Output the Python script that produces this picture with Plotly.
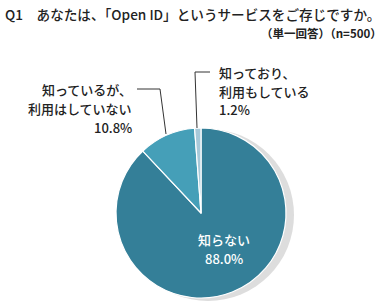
import plotly.graph_objects as go

W, H = 390, 301

labels = ["知らない", "知っているが、\n利用はしていない", "知っており、\n利用もしている"]
values = [88.0, 10.8, 1.2]
colors = ["#347f98", "#459fb8", "#a7c9d9"]

title = "Q1　あなたは、「Open ID」というサービスをご存じですか。"
subtitle = "（単一回答）（n=500）"

FONT = "Noto Sans CJK JP"
TXT = "#222222"

def px(x):
    return x / W

def py(y):
    return 1 - y / H

fig = go.Figure()

# shadow disc
fig.add_trace(go.Pie(
    values=[1], marker=dict(colors=["#dddddd"], line=dict(width=0)),
    textinfo="none", hoverinfo="skip", showlegend=False, sort=False,
    domain=dict(x=[px(122), px(294)], y=[py(301), py(129)]),
))

fig.add_trace(go.Pie(
    labels=labels, values=values, sort=False, direction="clockwise", rotation=0,
    marker=dict(colors=colors, line=dict(color="white", width=1.2)),
    textinfo="none", showlegend=False,
    domain=dict(x=[px(116), px(286)], y=[py(298), py(128)]),
))

ann = []
ann.append(dict(text=title, x=px(3), y=py(14), xanchor="left", yanchor="middle",
                font=dict(size=13.6, color=TXT, family=FONT, weight=500)))
ann.append(dict(text=subtitle, x=px(384), y=py(33), xanchor="right", yanchor="middle",
                font=dict(size=11.5, color=TXT, family=FONT, weight=600)))

def add_block(lines, x, y0, step, anchor, color, size=13):
    for i, t in enumerate(lines):
        ann.append(dict(text=t, x=px(x), y=py(y0 + i * step), xanchor=anchor, yanchor="middle",
                        font=dict(size=size, color=color, family=FONT, weight=500)))

# inside label for largest slice
add_block(labels[0].split("\n") + [f"{values[0]:.1f}%"], 224, 239, 19, "center", "white")
# left label
add_block(labels[1].split("\n") + [f"{values[1]:.1f}%"], 134, 89, 19, "right", TXT)
# right label
add_block(labels[2].split("\n") + [f"{values[2]:.1f}%"], 217, 72, 19, "left", TXT)

for a in ann:
    a.update(xref="paper", yref="paper", showarrow=False)

shapes = [
    dict(type="path", xref="paper", yref="paper",
         path=f"M {px(137)} {py(89)} L {px(160)} {py(89)} L {px(166)} {py(134)}",
         line=dict(color="#333333", width=1)),
    dict(type="path", xref="paper", yref="paper",
         path=f"M {px(210)} {py(72)} L {px(195)} {py(72)} L {px(197)} {py(128)}",
         line=dict(color="#333333", width=1)),
]

fig.update_layout(
    width=W, height=H, margin=dict(l=0, r=0, t=0, b=0),
    paper_bgcolor="white", plot_bgcolor="white",
    annotations=ann, shapes=shapes,
)

fig.write_html("out.html")
